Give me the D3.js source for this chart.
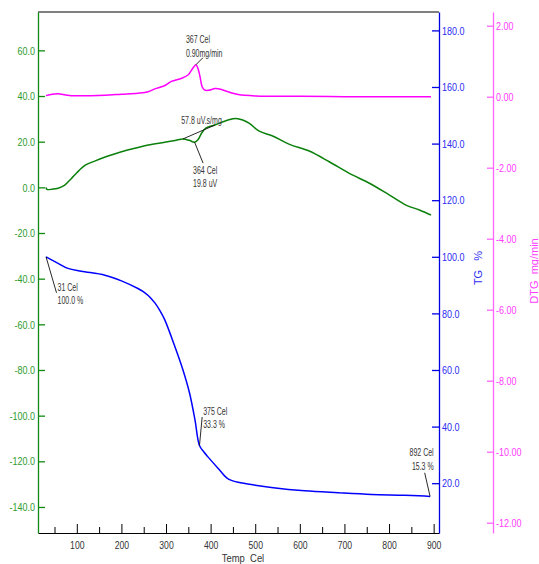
<!DOCTYPE html>
<html>
<head>
<meta charset="utf-8">
<script src="https://cdn.jsdelivr.net/npm/d3@7"></script>
<style>
html,body{margin:0;padding:0;background:#fff;}
svg{display:block;font-family:"Liberation Sans",Arial,sans-serif;}
</style>
</head>
<body>
<script>
// ---------- DATA ----------
const xTicks = [100,200,300,400,500,600,700,800,900];
const xMinorTicks = [50,150,250,350,450,550,650,750,850];
const dscTicks = [-140,-120,-100,-80,-60,-40,-20,0,20,40,60];
const tgTicks = [20,40,60,80,100,120,140,160,180];
const dtgTicks = [-12,-10,-8,-6,-4,-2,0,2];

// DTG (mg/min) curve
const dtgTemp = [31,45,58,75,88,130,163,200,237,260,275,295,312,335,350,360,367,372,376,381,386,395,410,420,439,462,502,600,700,800,894];
const dtgVal  = [0.03,0.07,0.08,0.05,0.03,0.03,0.04,0.07,0.10,0.14,0.22,0.30,0.43,0.52,0.62,0.80,0.90,0.78,0.58,0.28,0.19,0.18,0.23,0.22,0.14,0.06,0.02,0.01,0.0,0.0,0.0];

// DSC (uV) curve
const dscTemp = [31,33,45,58,73,88,100,120,140,170,200,230,260,297,320,338,352,364,372,380,390,409,439,457,472,487,509,539,577,621,666,711,756,801,838,868,894];
const dscVal  = [0.0,-0.9,-0.8,-0.4,1.0,3.9,6.4,9.8,11.5,13.7,15.6,17.1,18.5,19.7,20.5,21.2,20.6,19.8,21.0,23.8,26.0,27.3,29.5,30.2,29.5,28.0,24.6,22.5,18.8,15.9,11.2,6.1,1.8,-3.4,-7.8,-9.9,-12.1];

// TG (%) curve
const tgTemp = [31,58,80,110,163,200,237,249,260,267,275,286,297,320,338,353,365,375,385,394,417,436,448,462,500,536,611,686,761,835,892];
const tgVal  = [100,97.7,95.9,94.9,93.5,91.5,88.8,87.7,86.3,85.2,83.7,81.1,77.8,68.2,60,51.7,42.3,33.3,31.0,29.3,25.2,21.9,20.9,20.3,19.3,18.5,17.3,16.6,16.0,15.7,15.3];

// annotations
const dtgPeakT = 367, dtgPeakV = 0.90, dtgPeakLabels = ["367 Cel","0.90mg/min"];
const dscDipT = 364, dscDipV = 19.8, dscDipLabels = ["364 Cel","19.8 uV"];
const dscAreaT = [338,410], dscAreaV = [21.2,27.3], dscAreaLabel = "57.8 uV.s/mg";
const tgStartT = 31, tgStartV = 100.0, tgStartLabels = ["31 Cel","100.0 %"];
const tgMidT = 375, tgMidV = 33.3, tgMidLabels = ["375 Cel","33.3 %"];
const tgEndT = 892, tgEndV = 15.3, tgEndLabels = ["892 Cel","15.3 %"];

// ---------- LAYOUT ----------
const W = 539, H = 564;
const L = 38, R = 439, T = 12, B = 533, PX = 493;

const svg = d3.select("body").append("svg").attr("width", W).attr("height", H);
svg.append("rect").attr("width", W).attr("height", H).attr("fill", "#fff");

const x = d3.scaleLinear().domain([13, 912]).range([L, R]);
const yDsc = d3.scaleLinear().domain([-151.4, 76.8]).range([B, T]);
const yTg = d3.scaleLinear().domain([2.4, 186.5]).range([B, T]);
const yDtg = d3.scaleLinear().domain([-12.29, 2.386]).range([B, T]);

function squeeze(sel, k){
  sel.each(function(){
    const w = this.getComputedTextLength();
    if (w > 0){
      this.setAttribute("textLength", (w*k).toFixed(2));
      this.setAttribute("lengthAdjust", "spacingAndGlyphs");
    }
  });
}

const GREEN = "#108a10", GREEN_T = "#2e9b2e";
const BLUE = "#0000e6", BLUE_T = "#2b2bf2";
const PINK = "#ff66ff", PINK_T = "#ff3cff";
const INK = "#333";

// top border
svg.append("line").attr("x1", L).attr("x2", R).attr("y1", T).attr("y2", T)
  .attr("stroke", "#000").attr("stroke-width", 1);

// x axis
const gx = svg.append("g").attr("transform", `translate(0,${B})`)
  .call(d3.axisBottom(x).tickValues(xTicks).tickSizeInner(-9).tickSizeOuter(0).tickPadding(0).tickFormat(d3.format("d")));
gx.select(".domain").attr("stroke", "#000");
gx.selectAll(".tick line").attr("stroke", "#000");
gx.selectAll(".tick text").attr("y", 8).attr("dy", "0.71em")
  .attr("fill", INK).attr("font-size", 11.5).call(squeeze, 0.75);
const gxm = svg.append("g").attr("transform", `translate(0,${B})`)
  .call(d3.axisBottom(x).tickValues(xMinorTicks).tickSizeInner(-6).tickSizeOuter(0).tickFormat(""));
gxm.select(".domain").remove();
gxm.selectAll(".tick line").attr("stroke", "#000");
svg.append("text").attr("x", 243).attr("y", 562).attr("text-anchor", "middle")
  .attr("font-size", 11.5).attr("fill", INK).style("white-space", "pre")
  .text("Temp  Cel").call(squeeze, 0.82);

// left DSC axis
const gl = svg.append("g").attr("transform", `translate(${L},0)`)
  .call(d3.axisLeft(yDsc).tickValues(dscTicks).tickSizeInner(-7).tickSizeOuter(0).tickPadding(3).tickFormat(d => d.toFixed(1)));
gl.select(".domain").attr("stroke", GREEN).attr("stroke-width", 1.3);
gl.selectAll(".tick line").attr("stroke", GREEN).attr("stroke-width", 1.3);
gl.selectAll(".tick text").attr("fill", GREEN_T).attr("font-size", 11.5).call(squeeze, 0.78);

// right TG axis
const gr = svg.append("g").attr("transform", `translate(${R},0)`)
  .call(d3.axisRight(yTg).tickValues(tgTicks).tickSizeInner(-7).tickSizeOuter(0).tickPadding(3).tickFormat(d => d.toFixed(1)));
gr.select(".domain").attr("stroke", BLUE).attr("stroke-width", 1.3);
gr.selectAll(".tick line").attr("stroke", BLUE).attr("stroke-width", 1.3);
gr.selectAll(".tick text").attr("fill", BLUE_T).attr("font-size", 11.5).call(squeeze, 0.78);

// far right DTG axis
const gp = svg.append("g").attr("transform", `translate(${PX},0)`)
  .call(d3.axisRight(yDtg).tickValues(dtgTicks).tickSizeInner(-6).tickSizeOuter(0).tickPadding(3).tickFormat(d => d.toFixed(2)));
gp.select(".domain").attr("stroke", PINK).attr("stroke-width", 1.3);
gp.selectAll(".tick line").attr("stroke", PINK).attr("stroke-width", 1.3);
gp.selectAll(".tick text").attr("fill", PINK_T).attr("font-size", 11.5).call(squeeze, 0.78);

// axis titles
svg.append("text").attr("transform", "translate(482,268) rotate(-90)")
  .attr("text-anchor", "middle").attr("font-size", 11).attr("fill", BLUE_T)
  .style("white-space", "pre").text("TG   %");
svg.append("text").attr("transform", "translate(538,271) rotate(-90)")
  .attr("text-anchor", "middle").attr("font-size", 11).attr("fill", PINK_T)
  .style("white-space", "pre").text("DTG  mg/min");

// curves
function drawCurve(ts, vs, ys, color){
  const pts = ts.map((t,i) => [t, vs[i]]);
  svg.append("path").datum(pts)
    .attr("fill", "none").attr("stroke", color).attr("stroke-width", 1.5)
    .attr("stroke-linejoin", "round")
    .attr("d", d3.line().x(d => x(d[0])).y(d => ys(d[1])).curve(d3.curveCatmullRom.alpha(0.5)));
}
drawCurve(dtgTemp, dtgVal, yDtg, "#ff00ff");
drawCurve(dscTemp, dscVal, yDsc, "#0a800a");
drawCurve(tgTemp, tgVal, yTg, "#0000ff");

// annotations
function annotate(px, py, lx, ly, tx, baselines, labels, anchor){
  svg.append("line").attr("x1", px).attr("y1", py).attr("x2", lx).attr("y2", ly)
    .attr("stroke", "#111").attr("stroke-width", 0.9);
  labels.forEach((s, i) => {
    svg.append("text").attr("x", tx).attr("y", baselines[i])
      .attr("text-anchor", anchor || "start").attr("font-size", 10).attr("fill", INK)
      .text(s).call(squeeze, 0.7);
  });
}
{
  const px = x(dtgPeakT), py = yDtg(dtgPeakV);
  annotate(px, py, px + 7, py - 7, px - 10, [py - 21.5, py - 8], dtgPeakLabels);
}
{
  const px = x(dscDipT), py = yDsc(dscDipV);
  annotate(px, py, px + 8.5, py + 21, px - 1.5, [py + 32, py + 45], dscDipLabels);
}
{
  const x1 = x(dscAreaT[0]), y1 = yDsc(dscAreaV[0]), x2 = x(dscAreaT[1]), y2 = yDsc(dscAreaV[1]);
  svg.append("line").attr("x1", x1).attr("y1", y1).attr("x2", x2).attr("y2", y2)
    .attr("stroke", "#111").attr("stroke-width", 0.9);
  svg.append("text").attr("x", 201.5).attr("y", 123.5).attr("text-anchor", "middle")
    .attr("font-size", 10).attr("fill", INK).text(dscAreaLabel).call(squeeze, 0.7);
}
{
  const px = x(tgStartT), py = yTg(tgStartV);
  annotate(px, py, px + 10.5, py + 36, px + 11.5, [py + 34.4, py + 47.7], tgStartLabels);
}
{
  const px = x(tgMidT), py = yTg(tgMidV);
  annotate(px, py, px + 2.7, py - 28.5, px + 3.7, [py - 30.7, py - 17.7], tgMidLabels);
}
{
  const px = x(tgEndT), py = yTg(tgEndV);
  annotate(px, py, px - 5.4, py - 23.7, px + 3.6, [py - 40, py - 26.4], tgEndLabels, "end");
}
</script>
</body>
</html>
